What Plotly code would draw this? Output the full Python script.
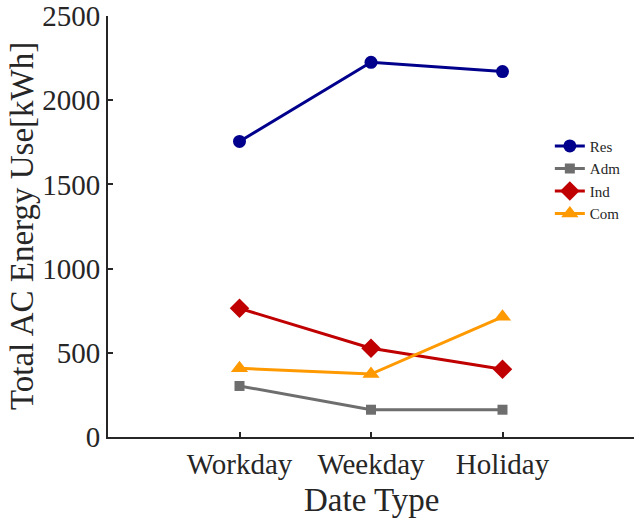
import plotly.graph_objects as go

categories = ["Workday", "Weekday", "Holiday"]
res = [1755, 2225, 2170]
adm = [303, 162, 162]
ind = [764, 527, 402]
com = [408, 374, 714]

series = [
    ("Res", res, "#00008C", "circle", 13),
    ("Adm", adm, "#6E6E6E", "square", 10),
    ("Ind", ind, "#C00000", "diamond", 15),
    ("Com", com, "#FF9900", "triangle-up", 15),
]

xpos = [1, 2, 3]
fig = go.Figure()
for name, vals, color, sym, sz in series:
    fig.add_trace(go.Scatter(
        x=xpos, y=vals, name=name, mode="lines+markers",
        line=dict(color=color, width=3),
        marker=dict(symbol=sym, size=sz, color=color),
    ))

tick_font = dict(family="Liberation Serif", size=29, color="#262626")
title_font = dict(family="Liberation Serif", size=33, color="#262626")
fig.update_layout(
    width=642, height=523,
    margin=dict(l=108, r=8, t=16, b=86, autoexpand=False),
    paper_bgcolor="white", plot_bgcolor="white",
    font=dict(family="Liberation Serif", color="#262626"),
    showlegend=True,
    legend=dict(x=0.84, y=0.73, xanchor="left", yanchor="top",
                font=dict(family="Liberation Serif", size=15, color="#262626"),
                bgcolor="rgba(0,0,0,0)", tracegroupgap=0, itemwidth=30),
    xaxis=dict(range=[0, 4], tickvals=xpos, ticktext=categories,
               showgrid=False, zeroline=False, showline=True, linecolor="#262626", linewidth=2,
               ticks="inside", ticklen=5, tickwidth=1.5, tickcolor="#262626",
               tickfont=tick_font, automargin=False),
    yaxis=dict(range=[0, 2500], tickvals=[0, 500, 1000, 1500, 2000, 2500],
               showgrid=False, zeroline=False, showline=True, linecolor="#262626", linewidth=2,
               ticks="inside", ticklen=5, tickwidth=1.5, tickcolor="#262626",
               tickfont=tick_font, automargin=False),
    annotations=[
        dict(text="Date Type", xref="paper", yref="paper", x=0.5, y=-0.1496,
             xanchor="center", yanchor="middle", showarrow=False, font=title_font),
        dict(text="Total AC Energy Use[kWh]", xref="paper", yref="paper", x=-0.1635, y=0.501,
             xanchor="center", yanchor="middle", textangle=-90, showarrow=False, font=title_font),
    ],
)

fig.write_html("out.html")
